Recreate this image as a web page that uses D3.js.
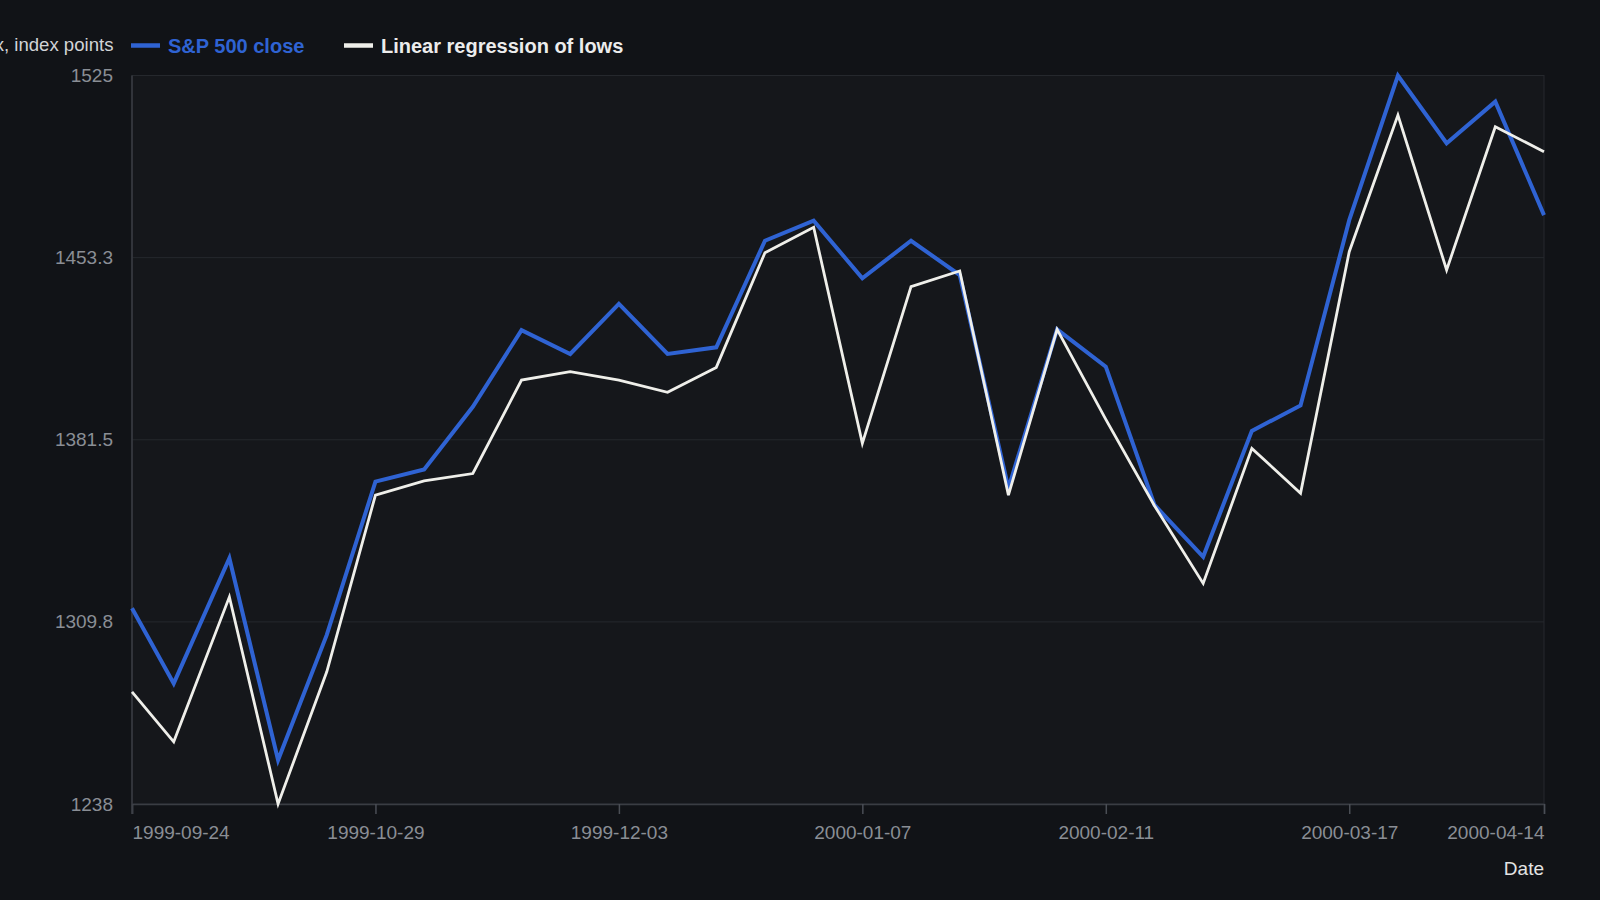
<!DOCTYPE html>
<html>
<head>
<meta charset="utf-8">
<script src="https://cdn.jsdelivr.net/npm/d3@7/dist/d3.min.js"></script>
<style>
  html, body { margin: 0; padding: 0; background: #111317; overflow: hidden; }
  svg { display: block; font-family: "Liberation Sans", Arial, sans-serif; }
</style>
</head>
<body>
<svg id="chart" width="1600" height="900"></svg>
<script>
// ---- data ----
const dates = ["1999-09-24","1999-09-30","1999-10-08","1999-10-15","1999-10-22","1999-10-29",
  "1999-11-05","1999-11-12","1999-11-19","1999-11-26","1999-12-03","1999-12-10","1999-12-17",
  "1999-12-24","1999-12-31","2000-01-07","2000-01-14","2000-01-21","2000-01-28","2000-02-04",
  "2000-02-11","2000-02-18","2000-02-25","2000-03-03","2000-03-10","2000-03-17","2000-03-24",
  "2000-03-31","2000-04-07","2000-04-14"];
const closeValues = [1315.1, 1285.5, 1334.8, 1255.3, 1304.6, 1365.0, 1369.8, 1394.5, 1424.7, 1415.3,
  1435.0, 1415.3, 1417.9, 1459.9, 1467.8, 1445.1, 1459.9, 1446.4, 1362.4, 1425.0,
  1410.3, 1355.8, 1335.4, 1385.0, 1395.0, 1468.0, 1525.0, 1498.3, 1514.7, 1470.0];
const lowsRegression = [1282.2, 1262.5, 1319.6, 1238.0, 1290.1, 1359.7, 1365.3, 1368.2, 1405.0, 1408.3,
  1405.0, 1400.2, 1410.0, 1455.2, 1465.2, 1380.1, 1441.8, 1448.0, 1359.7, 1425.0,
  1389.5, 1355.5, 1324.9, 1378.1, 1360.4, 1455.6, 1509.4, 1448.4, 1504.8, 1495.0];
const seriesNames = ["S&P 500 close", "Linear regression of lows"];
const yTickValues = [1238, 1309.75, 1381.5, 1453.25, 1525];
const yTickLabels = ["1238", "1309.8", "1381.5", "1453.3", "1525"];
const xTickLabels = ["1999-09-24","1999-10-29","1999-12-03","2000-01-07","2000-02-11","2000-03-17","2000-04-14"];
const yTitle = "S&P 500 index, index points";
const xTitle = "Date";

// ---- layout ----
const W = 1600, H = 900;
const m = { left: 132, right: 56, top: 75.5, bottom: 96 };
const x0 = m.left, x1 = W - m.right, y0 = m.top, y1 = H - m.bottom;
const colors = { close: "#2f63d3", low: "#efefea", grid: "#25282d", tick: "#8a8e95", text: "#e4e4e4" };

const parse = d3.utcParse("%Y-%m-%d");
const data = dates.map((d, i) => ({ date: parse(d), close: closeValues[i], low: lowsRegression[i] }));

const x = d3.scaleUtc().domain(d3.extent(data, d => d.date)).range([x0, x1]);
const y = d3.scaleLinear().domain([1238, 1525]).range([y1, y0]);

const svg = d3.select("#chart");
svg.append("rect").attr("width", W).attr("height", H).attr("fill", "#111317");

// plot background
svg.append("rect").attr("x", x0).attr("y", y0).attr("width", x1 - x0).attr("height", y1 - y0)
  .attr("fill", "#15171b").attr("stroke", "#26292e").attr("stroke-width", 1);

// grid lines
svg.append("g").selectAll("line").data(yTickValues).join("line")
  .attr("x1", x0).attr("x2", x1)
  .attr("y1", d => y(d)).attr("y2", d => y(d))
  .attr("stroke", colors.grid).attr("stroke-width", 1);

// y axis labels
const yAxis = d3.axisLeft(y).tickValues(yTickValues)
  .tickFormat((d, i) => yTickLabels[i]).tickSize(0).tickPadding(19);
const gy = svg.append("g").attr("transform", `translate(${x0},0)`).call(yAxis);
gy.select(".domain").remove();
gy.selectAll("text").attr("fill", colors.tick).style("font-size", "19px")
  .style("font-family", "'Liberation Sans', Arial, sans-serif");

// x axis
const xTickDates = xTickLabels.map(parse);
const xAxis = d3.axisBottom(x).tickValues(xTickDates)
  .tickFormat((d, i) => xTickLabels[i]).tickSize(10).tickPadding(12);
const gx = svg.append("g").attr("transform", `translate(0,${y1})`).call(xAxis);
gx.select(".domain").attr("stroke", "#3a3d43").attr("stroke-width", 1.5);
gx.selectAll(".tick line").attr("stroke", "#4a4e55").attr("stroke-width", 1.5);
gx.selectAll("text").attr("fill", colors.tick).style("font-size", "19px")
  .style("font-family", "'Liberation Sans', Arial, sans-serif")
  .attr("text-anchor", (d, i) => i === 0 ? "start" : (i === xTickLabels.length - 1 ? "end" : "middle"));

// left axis line
svg.append("line").attr("x1", x0).attr("x2", x0).attr("y1", y0).attr("y2", y1 + 10)
  .attr("stroke", "#3a3d43").attr("stroke-width", 1.5);

// lines
const lineLow = d3.line().x(d => x(d.date)).y(d => y(d.low));
const lineClose = d3.line().x(d => x(d.date)).y(d => y(d.close));
svg.append("path").datum(data).attr("d", lineClose).attr("fill", "none")
  .attr("stroke", colors.close).attr("stroke-width", 4).attr("stroke-linejoin", "miter");
svg.append("path").datum(data).attr("d", lineLow).attr("fill", "none")
  .attr("stroke", colors.low).attr("stroke-width", 2.8).attr("stroke-linejoin", "miter");

// y title (runs off the left edge, as in the reference)
svg.append("text").attr("x", 113.5).attr("y", 51).attr("text-anchor", "end")
  .attr("fill", "#d2d4d7").style("font-size", "18.6px").text(yTitle);

// legend
const legend = [
  { name: seriesNames[0], color: colors.close, textColor: colors.close, lx: 131, tx: 168 },
  { name: seriesNames[1], color: colors.low, textColor: "#ececec", lx: 344, tx: 381 }
];
const lg = svg.append("g");
legend.forEach(l => {
  lg.append("line").attr("x1", l.lx).attr("x2", l.lx + 29).attr("y1", 45.5).attr("y2", 45.5)
    .attr("stroke", l.color).attr("stroke-width", 4.5);
  lg.append("text").attr("x", l.tx).attr("y", 53).attr("fill", l.textColor)
    .style("font-size", "20px").style("font-weight", "bold").text(l.name);
});

// x title
svg.append("text").attr("x", x1).attr("y", 875).attr("text-anchor", "end")
  .attr("fill", colors.text).style("font-size", "19px").text(xTitle);
</script>
</body>
</html>
